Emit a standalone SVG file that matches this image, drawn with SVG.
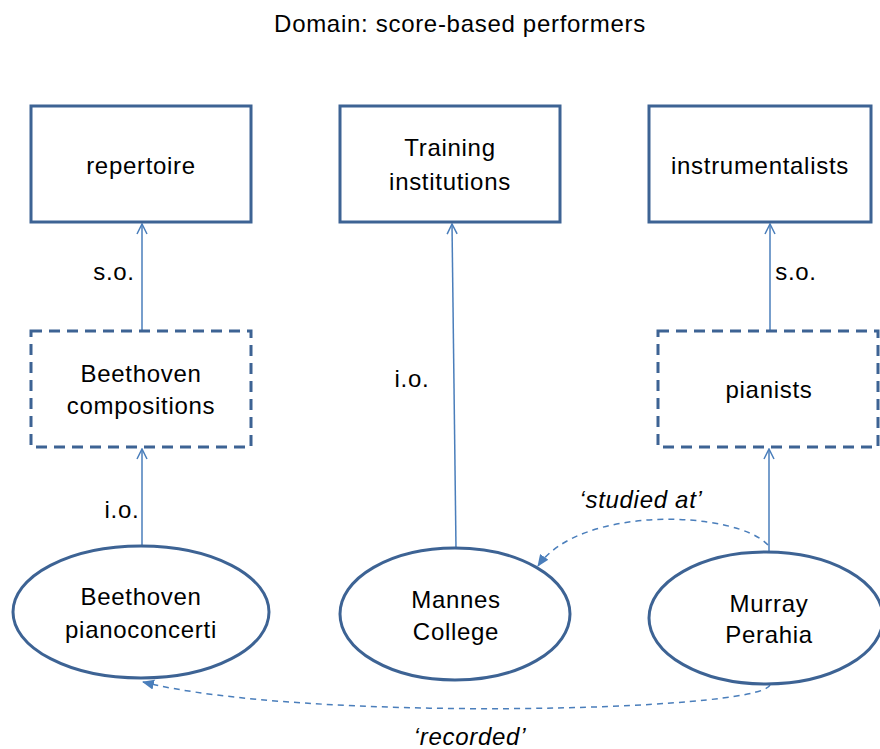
<svg xmlns="http://www.w3.org/2000/svg" width="880" height="749" viewBox="0 0 880 749">
<style>
.box{fill:#fff;stroke:#3d6394;stroke-width:3}
.dash{stroke-dasharray:11 7}
.t{font-family:"Liberation Sans",Arial,sans-serif;font-size:24px;letter-spacing:0.7px;fill:#000;text-anchor:middle}
.i{font-style:italic}
.c{fill:none;stroke:#4a7ebb;stroke-width:1.5}
.d{stroke-dasharray:6 5}
</style>
<defs>
<marker id="open" viewBox="0 0 12 12" refX="11" refY="6" markerWidth="12" markerHeight="12" markerUnits="userSpaceOnUse" orient="auto">
<path d="M1,1 L11,6 L1,11" fill="none" stroke="#4a7ebb" stroke-width="1.5"/>
</marker>
<marker id="fill" viewBox="0 0 12 12" refX="11" refY="6" markerWidth="12" markerHeight="12" markerUnits="userSpaceOnUse" orient="auto">
<path d="M0,1 L12,6 L0,11 Z" fill="#4a7ebb"/>
</marker>
</defs>
<text class="t" x="460" y="32">Domain: score-based performers</text>
<g id="connectors">
<line class="c" x1="142" y1="331" x2="142" y2="224" marker-end="url(#open)"/>
<line class="c" x1="142" y1="545" x2="142" y2="449" marker-end="url(#open)"/>
<line class="c" x1="456" y1="548" x2="452" y2="224" marker-end="url(#open)"/>
<line class="c" x1="770" y1="331" x2="770" y2="224" marker-end="url(#open)"/>
<line class="c" x1="769" y1="551" x2="769" y2="449" marker-end="url(#open)"/>
<path class="c d" d="M768,545 C735,510 580,505 538,566" marker-end="url(#fill)"/>
<path class="c d" d="M770,685 C760,712 300,722 143,682" marker-end="url(#fill)"/>
<text class="t" x="114" y="280">s.o.</text>
<text class="t" x="796" y="280">s.o.</text>
<text class="t" x="412" y="387">i.o.</text>
<text class="t" x="122" y="518">i.o.</text>
<text class="t i" x="641" y="508">‘studied at’</text>
<text class="t i" x="470" y="745">‘recorded’</text>
</g>
<g id="repertoire">
<rect class="box" x="31" y="106" width="220" height="116"/>
<text class="t" x="141" y="174">repertoire</text>
</g>
<g id="training">
<rect class="box" x="340" y="106" width="220" height="116"/>
<text class="t" x="450" y="156">Training</text>
<text class="t" x="450" y="190">institutions</text>
</g>
<g id="instrumentalists">
<rect class="box" x="649" y="106" width="222" height="116"/>
<text class="t" x="760" y="174">instrumentalists</text>
</g>
<g id="beethoven-compositions">
<rect class="box dash" x="31" y="331" width="220" height="116"/>
<text class="t" x="141" y="382">Beethoven</text>
<text class="t" x="141" y="414">compositions</text>
</g>
<g id="pianists">
<rect class="box dash" x="658" y="331" width="220" height="116"/>
<text class="t" x="769" y="398">pianists</text>
</g>
<g id="beethoven-pianoconcerti">
<ellipse class="box" cx="141" cy="612" rx="128" ry="66"/>
<text class="t" x="141" y="605">Beethoven</text>
<text class="t" x="141" y="638">pianoconcerti</text>
</g>
<g id="mannes">
<ellipse class="box" cx="455" cy="614" rx="115" ry="66"/>
<text class="t" x="456" y="608">Mannes</text>
<text class="t" x="456" y="640">College</text>
</g>
<g id="murray">
<ellipse class="box" cx="766" cy="618" rx="117" ry="66"/>
<text class="t" x="769" y="612">Murray</text>
<text class="t" x="769" y="643">Perahia</text>
</g>
</svg>
